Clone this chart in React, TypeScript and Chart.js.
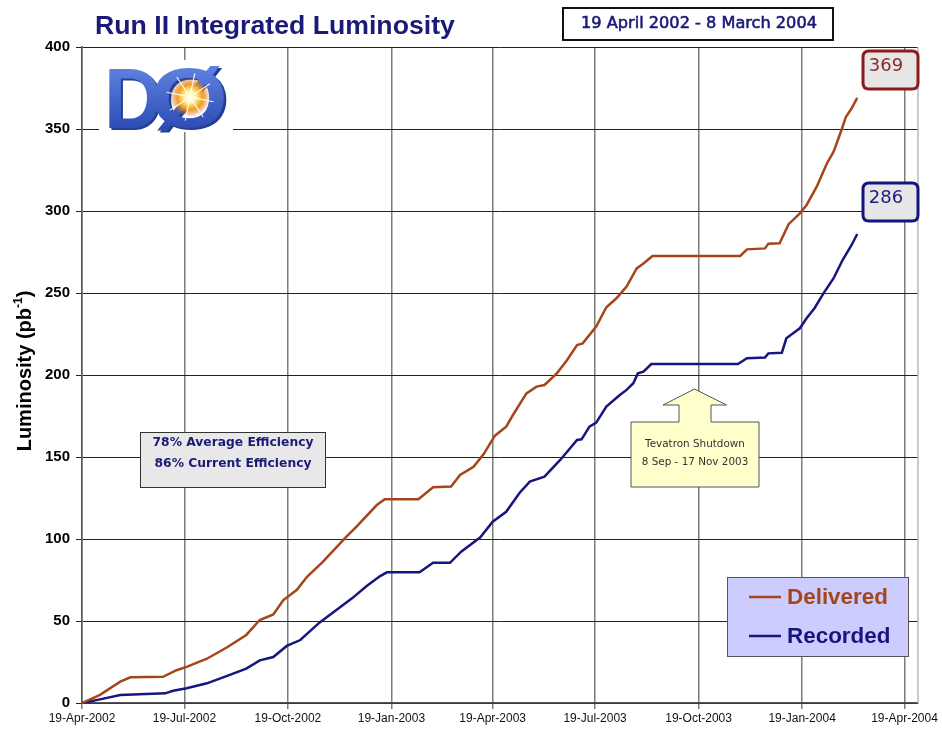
import { useEffect, useRef } from "react";
import { Chart, registerables } from "chart.js";
Chart.register(...registerables);

// ---- data (x = days since 19-Apr-2002) ----
const tickDays = [0, 91, 183, 275, 365, 456, 548, 640, 731];
const tickLabels = ["19-Apr-2002", "19-Jul-2002", "19-Oct-2002", "19-Jan-2003", "19-Apr-2003", "19-Jul-2003", "19-Oct-2003", "19-Jan-2004", "19-Apr-2004"];
const xMaxDays = 743;

const deliveredDays = [0, 16, 34, 43, 72, 84, 93, 111, 129, 146, 158, 170, 179, 191, 200, 214, 235, 244, 262, 269, 299, 312, 328, 336, 348, 357, 367, 377, 383, 395, 404, 411, 422, 431, 440, 445, 457, 466, 475, 484, 493, 499, 507, 585, 591, 607, 610, 620, 628, 638, 644, 653, 662, 668, 675, 679, 684, 689];
const deliveredValues = [0, 5, 13, 15.7, 16, 20, 22, 27, 34, 41.5, 50.6, 54, 62.8, 69, 77, 86, 101.4, 107.5, 120.7, 124.2, 124.2, 131.5, 132, 139, 144, 151.8, 163, 168.5, 175.6, 188.8, 192.9, 193.9, 201, 209, 218.3, 219.3, 229.5, 241.3, 246.8, 253.9, 265, 268, 272.6, 272.6, 276.6, 277.2, 280, 280.3, 292, 298.6, 303.7, 314.8, 329, 336.2, 349.4, 357.5, 362.6, 369];

const recordedDays = [0, 16, 34, 74, 81, 93, 111, 129, 146, 158, 170, 182, 194, 211, 240, 253, 265, 271, 300, 312, 327, 337, 354, 365, 377, 389, 398, 411, 425, 440, 444, 451, 457, 466, 478, 484, 490, 494, 499, 506, 583, 591, 607, 610, 622, 626, 632, 638, 644, 651, 659, 668, 676, 684, 689];
const recordedValues = [0, 2.2, 4.9, 5.9, 7.5, 9, 12, 16.5, 21, 26, 28, 34.8, 38.4, 49, 63.8, 71.3, 77.4, 79.7, 79.7, 85.5, 85.5, 92.3, 101, 110.5, 116.6, 128.2, 135, 138, 148.2, 160.4, 160.8, 168.5, 171, 180.7, 187.8, 190.9, 195, 201, 202, 206.7, 206.7, 210.2, 210.6, 213.2, 213.6, 222.4, 225.4, 228.5, 234.6, 240.7, 249.8, 259, 270.1, 279.3, 286];

const seriesNames = ["Delivered", "Recorded"];
const deliveredTotal = "369";
const recordedTotal = "286";

const TITLE = "Run II Integrated Luminosity";
const DATE_RANGE = "19 April 2002 - 8 March 2004";
const EFFICIENCY = ["78% Average Efficiency", "86% Current Efficiency"];
const SHUTDOWN = ["Tevatron Shutdown", "8 Sep - 17 Nov 2003"];
const Y_TITLE = "Luminosity (pb";
const Y_TITLE_SUP = "-1";

const DELIVERED_COLOR = "#a4461a";
const RECORDED_COLOR = "#16167e";
const NAVY_TEXT = "#1a1a78";
const SANS = '"Liberation Sans", Arial, sans-serif';
const TAHOMA = '"DejaVu Sans", Verdana, sans-serif';

function fitSize(ctx: CanvasRenderingContext2D, text: string, weight: string, family: string, width: number) {
  ctx.font = `${weight} 100px ${family}`;
  const w = ctx.measureText(text).width;
  return (100 * width) / w;
}

function rr(ctx: CanvasRenderingContext2D, x: number, y: number, w: number, h: number, r: number) {
  ctx.beginPath();
  ctx.moveTo(x + r, y);
  ctx.lineTo(x + w - r, y);
  ctx.quadraticCurveTo(x + w, y, x + w, y + r);
  ctx.lineTo(x + w, y + h - r);
  ctx.quadraticCurveTo(x + w, y + h, x + w - r, y + h);
  ctx.lineTo(x + r, y + h);
  ctx.quadraticCurveTo(x, y + h, x, y + h - r);
  ctx.lineTo(x, y + r);
  ctx.quadraticCurveTo(x, y, x + r, y);
  ctx.closePath();
}

function drawGlyph(ctx: CanvasRenderingContext2D, ch: string, x: number, base: number, w: number, h: number) {
  ctx.save();
  ctx.font = `900 100px ${SANS}`;
  const gw = ctx.measureText(ch).width;
  ctx.translate(x, base);
  ctx.scale(w / gw, h / 72);
  ctx.textAlign = "left";
  ctx.textBaseline = "alphabetic";
  ctx.fillStyle = "#223f96";
  ctx.fillText(ch, 2.5, 2.5);
  const g = ctx.createLinearGradient(0, -72, 0, 0);
  g.addColorStop(0, "#5f82e2");
  g.addColorStop(1, "#2d4db5");
  ctx.fillStyle = g;
  ctx.fillText(ch, 0, 0);
  ctx.restore();
}

const decor = {
  id: "decor",
  beforeDraw(chart: any) {
    const ctx = chart.ctx;
    ctx.save();
    ctx.fillStyle = "#ffffff";
    ctx.fillRect(0, 0, chart.width, chart.height);
    ctx.restore();
  },
  afterDraw(chart: any) {
    const ctx: CanvasRenderingContext2D = chart.ctx;
    const { top, bottom, right } = chart.chartArea;
    ctx.save();

    // right border
    ctx.strokeStyle = "#b8b8b8";
    ctx.lineWidth = 1.5;
    ctx.beginPath();
    ctx.moveTo(right, top);
    ctx.lineTo(right, bottom);
    ctx.stroke();

    // title
    let s = fitSize(ctx, TITLE, "bold", SANS, 360);
    ctx.font = `bold ${s}px ${SANS}`;
    ctx.fillStyle = NAVY_TEXT;
    ctx.textAlign = "left";
    ctx.textBaseline = "middle";
    ctx.fillText(TITLE, 95, 27);

    // date range box
    ctx.fillStyle = "#ffffff";
    ctx.fillRect(563, 8, 270, 32);
    ctx.strokeStyle = "#111";
    ctx.lineWidth = 2;
    ctx.strokeRect(563, 8, 270, 32);
    s = fitSize(ctx, DATE_RANGE, "normal", TAHOMA, 236);
    ctx.font = `normal ${s}px ${TAHOMA}`;
    ctx.fillStyle = NAVY_TEXT;
    ctx.strokeStyle = NAVY_TEXT;
    ctx.lineWidth = 0.6;
    ctx.textAlign = "center";
    ctx.fillText(DATE_RANGE, 699, 24);
    ctx.strokeText(DATE_RANGE, 699, 24);

    // total boxes
    const totals: [string, number, string, string][] = [
      [deliveredTotal, 51, "#8a1c1c", "#8a2a2a"],
      [recordedTotal, 183, "#14147e", "#1c1c80"],
    ];
    for (const [txt, y, col, tcol] of totals) {
      rr(ctx, 863, y, 55, 38, 6);
      ctx.fillStyle = "#e6e6e6";
      ctx.fill();
      ctx.strokeStyle = col;
      ctx.lineWidth = 3;
      ctx.stroke();
      ctx.font = `normal 18px ${TAHOMA}`;
      ctx.fillStyle = tcol;
      ctx.textAlign = "center";
      ctx.fillText(txt, 886, y + 15);
    }

    // efficiency box
    ctx.fillStyle = "#e8e8e8";
    ctx.fillRect(140, 432, 185, 55);
    ctx.strokeStyle = "#333";
    ctx.lineWidth = 1;
    ctx.strokeRect(140.5, 432.5, 185, 55);
    s = fitSize(ctx, EFFICIENCY[0], "bold", TAHOMA, 161);
    ctx.font = `bold ${s}px ${TAHOMA}`;
    ctx.fillStyle = NAVY_TEXT;
    ctx.fillText(EFFICIENCY[0], 233, 443);
    ctx.fillText(EFFICIENCY[1], 233, 464);

    // shutdown arrow callout
    ctx.beginPath();
    ctx.moveTo(631, 422);
    ctx.lineTo(679, 422);
    ctx.lineTo(679, 405);
    ctx.lineTo(663, 405);
    ctx.lineTo(694.5, 389);
    ctx.lineTo(726.5, 405);
    ctx.lineTo(711, 405);
    ctx.lineTo(711, 422);
    ctx.lineTo(759, 422);
    ctx.lineTo(759, 487);
    ctx.lineTo(631, 487);
    ctx.closePath();
    ctx.fillStyle = "#ffffcc";
    ctx.fill();
    ctx.strokeStyle = "#555";
    ctx.lineWidth = 1;
    ctx.stroke();
    s = fitSize(ctx, SHUTDOWN[0], "normal", TAHOMA, 100);
    ctx.font = `normal ${s}px ${TAHOMA}`;
    ctx.fillStyle = "#333";
    ctx.fillText(SHUTDOWN[0], 695, 444);
    ctx.fillText(SHUTDOWN[1], 695, 462);

    // legend
    ctx.fillStyle = "#ccccff";
    ctx.fillRect(727, 577, 181, 79);
    ctx.strokeStyle = "#555";
    ctx.lineWidth = 1;
    ctx.strokeRect(727.5, 577.5, 181, 79);
    const legendRows: [string, string, number][] = [
      [seriesNames[0], DELIVERED_COLOR, 597],
      [seriesNames[1], RECORDED_COLOR, 636],
    ];
    s = fitSize(ctx, seriesNames[0], "bold", SANS, 101);
    for (const [name, col, y] of legendRows) {
      ctx.strokeStyle = col;
      ctx.lineWidth = 2.5;
      ctx.beginPath();
      ctx.moveTo(749, y);
      ctx.lineTo(781, y);
      ctx.stroke();
      ctx.font = `bold ${s}px ${SANS}`;
      ctx.fillStyle = col;
      ctx.textAlign = "left";
      ctx.fillText(name, 787, y + 1);
    }

    // y axis title
    ctx.save();
    ctx.translate(24, 371);
    ctx.rotate(-Math.PI / 2);
    ctx.font = `bold 20px ${SANS}`;
    const w1 = ctx.measureText(Y_TITLE).width;
    ctx.font = `bold 12px ${SANS}`;
    const w2 = ctx.measureText(Y_TITLE_SUP).width;
    ctx.font = `bold 20px ${SANS}`;
    const w3 = ctx.measureText(")").width;
    const x0 = -(w1 + w2 + w3) / 2;
    ctx.fillStyle = "#000";
    ctx.textAlign = "left";
    ctx.textBaseline = "alphabetic";
    ctx.fillText(Y_TITLE, x0, 7);
    ctx.fillText(")", x0 + w1 + w2, 7);
    ctx.font = `bold 12px ${SANS}`;
    ctx.fillText(Y_TITLE_SUP, x0 + w1, -2);
    ctx.restore();

    // DØ logo
    ctx.fillStyle = "#ffffff";
    ctx.fillRect(99, 60, 134, 72);
    drawGlyph(ctx, "D", 104, 128, 58, 62);
    drawGlyph(ctx, "Ø", 150, 128, 78, 62);
    const cx = 190, cy = 97;
    const rg = ctx.createRadialGradient(cx, cy, 1, cx, cy, 20);
    rg.addColorStop(0, "#ffffff");
    rg.addColorStop(0.25, "#fff6a0");
    rg.addColorStop(0.6, "#f5a020");
    rg.addColorStop(1, "rgba(200,90,20,0.0)");
    ctx.fillStyle = rg;
    ctx.beginPath();
    ctx.arc(cx, cy, 20, 0, Math.PI * 2);
    ctx.fill();
    ctx.strokeStyle = "rgba(255,255,255,0.9)";
    ctx.lineWidth = 1.2;
    for (let k = 0; k < 8; k++) {
      const a = (k * Math.PI) / 4 + 0.2;
      ctx.beginPath();
      ctx.moveTo(cx + Math.cos(a) * 4, cy + Math.sin(a) * 4);
      ctx.lineTo(cx + Math.cos(a) * 24, cy + Math.sin(a) * 24);
      ctx.stroke();
    }

    ctx.restore();
  },
};

export default function App() {
  const ref = useRef<HTMLCanvasElement>(null);
  useEffect(() => {
    document.body.style.margin = "0";
    const chart = new Chart(ref.current!, {
      type: "line",
      data: {
        datasets: [
          {
            label: seriesNames[0],
            data: deliveredDays.map((d, i) => ({ x: d, y: deliveredValues[i] })),
            borderColor: DELIVERED_COLOR,
            borderWidth: 2.5,
            pointRadius: 0,
            tension: 0,
            fill: false,
          },
          {
            label: seriesNames[1],
            data: recordedDays.map((d, i) => ({ x: d, y: recordedValues[i] })),
            borderColor: RECORDED_COLOR,
            borderWidth: 2.5,
            pointRadius: 0,
            tension: 0,
            fill: false,
          },
        ],
      },
      options: {
        animation: false,
        responsive: true,
        maintainAspectRatio: false,
        layout: { padding: { top: 47, right: 24, left: 0, bottom: 0 } },
        plugins: { legend: { display: false }, tooltip: { enabled: false } },
        scales: {
          x: {
            type: "linear",
            min: 0,
            max: xMaxDays,
            afterBuildTicks: (scale: any) => {
              scale.ticks = tickDays.map((v) => ({ value: v }));
            },
            afterFit: (scale: any) => {
              scale.height = 28;
            },
            ticks: {
              autoSkip: false,
              maxRotation: 0,
              minRotation: 0,
              padding: 2,
              color: "#111",
              font: { family: '"Liberation Sans Narrow", "Arial Narrow", "Liberation Sans", sans-serif', size: 12 },
              callback: (_v: any, i: number) => tickLabels[i],
            },
            grid: { color: "#7c7c7c", lineWidth: 1.5, tickLength: 6 },
            border: { display: true, color: "#555", width: 1.5 },
          },
          y: {
            min: 0,
            max: 400,
            afterFit: (scale: any) => {
              scale.width = 82;
            },
            ticks: {
              stepSize: 50,
              padding: 6,
              color: "#000",
              font: { family: SANS, size: 15, weight: "bold" },
            },
            grid: { color: "#222", lineWidth: 1, tickLength: 6 },
            border: { display: true, color: "#555", width: 1.5 },
          },
        },
      },
      plugins: [decor],
    } as any);
    return () => chart.destroy();
  }, []);
  return (
    <div style={{ position: "absolute", left: 0, top: 0, width: 942, height: 731 }}>
      <canvas ref={ref} />
    </div>
  );
}
